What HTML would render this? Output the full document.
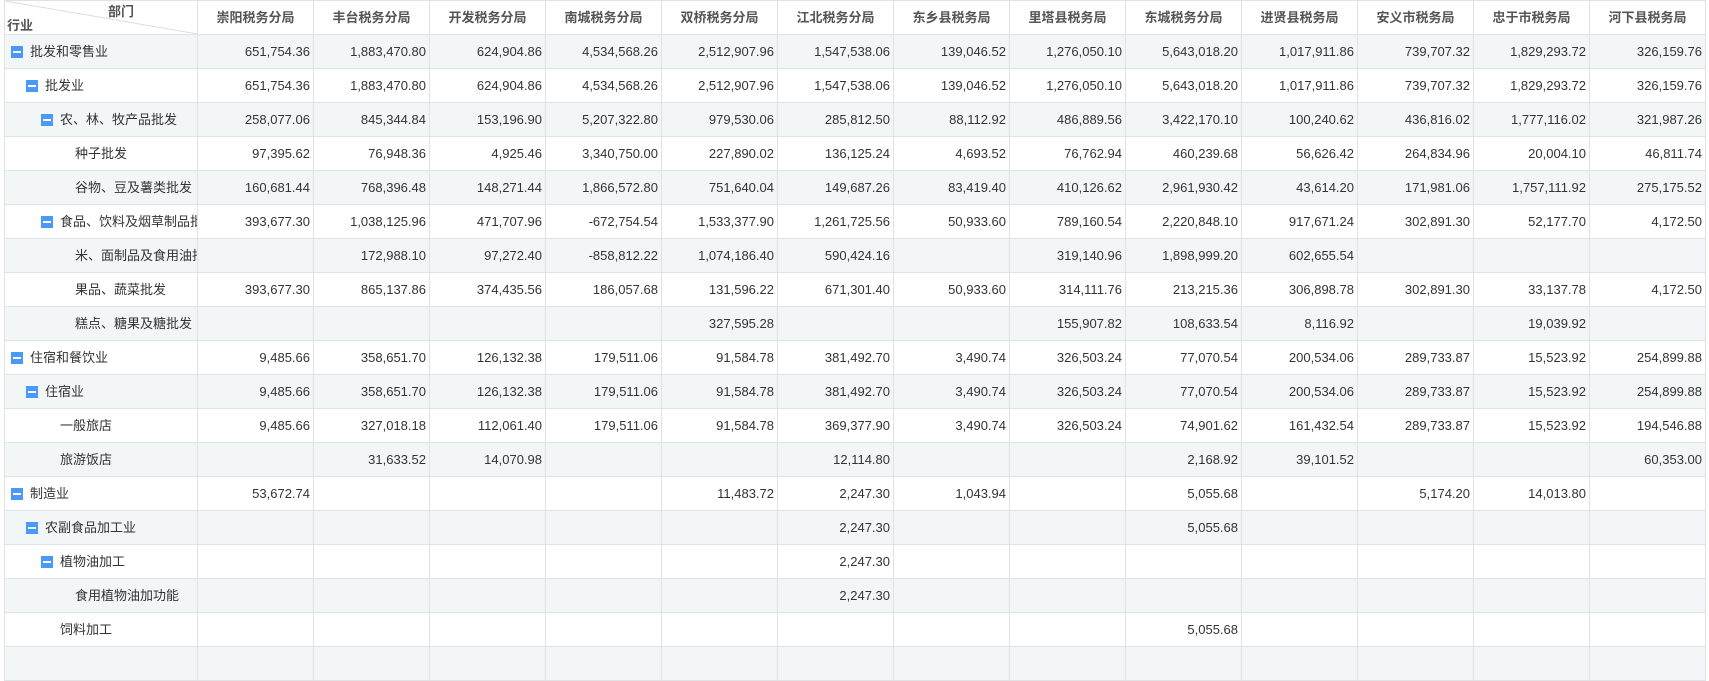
<!DOCTYPE html>
<html><head><meta charset="utf-8"><style>
html,body{margin:0;background:#fff;width:1709px;height:649px;overflow:hidden;font-family:"Liberation Sans","Noto Sans CJK SC",sans-serif;}
table{position:absolute;left:4px;top:0;border-collapse:collapse;table-layout:fixed;width:1702px;font-size:13px;color:#333;line-height:16px;}
tr{height:34px;}
td,th{border:1px solid #e0e3e6;height:34px;padding:0 3px 0 0;text-align:right;white-space:nowrap;overflow:hidden;box-sizing:border-box;vertical-align:middle;}
th{font-weight:bold;color:#555;text-align:center;padding:0;font-size:13px;}
tr.g td{background:#f3f6f7;}
td.n{text-align:left;padding:0;position:relative;}
.i{display:inline-block;width:12px;height:12px;background:#4a98f7;position:absolute;top:11px;}
.i:after{content:"";position:absolute;left:2px;right:2px;top:5px;height:2px;background:#fff;}
.t{position:absolute;top:9px;line-height:16px;}
</style></head><body>
<table>
<colgroup><col style="width:193px"><col span="13" style="width:116px"></colgroup>
<tr><th style="position:relative;border-left:1px solid #e0e3e6;text-align:left">
<svg width="193" height="34" style="position:absolute;left:0;top:0"><line x1="0" y1="0" x2="193" y2="33" stroke="#ddd"/></svg>
<span style="position:absolute;left:103px;top:3px">部门</span><span style="position:absolute;left:2px;top:17px">行业</span></th>
<th>崇阳税务分局</th><th>丰台税务分局</th><th>开发税务分局</th><th>南城税务分局</th><th>双桥税务分局</th><th>江北税务分局</th><th>东乡县税务局</th><th>里塔县税务局</th><th>东城税务分局</th><th>进贤县税务局</th><th>安义市税务局</th><th>忠于市税务局</th><th>河下县税务局</th></tr>
<tr class="g"><td class="n"><span class="i" style="left:6px"></span><span class="t" style="left:25px">批发和零售业</span></td><td>651,754.36</td><td>1,883,470.80</td><td>624,904.86</td><td>4,534,568.26</td><td>2,512,907.96</td><td>1,547,538.06</td><td>139,046.52</td><td>1,276,050.10</td><td>5,643,018.20</td><td>1,017,911.86</td><td>739,707.32</td><td>1,829,293.72</td><td>326,159.76</td></tr>
<tr><td class="n"><span class="i" style="left:21px"></span><span class="t" style="left:40px">批发业</span></td><td>651,754.36</td><td>1,883,470.80</td><td>624,904.86</td><td>4,534,568.26</td><td>2,512,907.96</td><td>1,547,538.06</td><td>139,046.52</td><td>1,276,050.10</td><td>5,643,018.20</td><td>1,017,911.86</td><td>739,707.32</td><td>1,829,293.72</td><td>326,159.76</td></tr>
<tr class="g"><td class="n"><span class="i" style="left:36px"></span><span class="t" style="left:55px">农、林、牧产品批发</span></td><td>258,077.06</td><td>845,344.84</td><td>153,196.90</td><td>5,207,322.80</td><td>979,530.06</td><td>285,812.50</td><td>88,112.92</td><td>486,889.56</td><td>3,422,170.10</td><td>100,240.62</td><td>436,816.02</td><td>1,777,116.02</td><td>321,987.26</td></tr>
<tr><td class="n"><span class="t" style="left:70px">种子批发</span></td><td>97,395.62</td><td>76,948.36</td><td>4,925.46</td><td>3,340,750.00</td><td>227,890.02</td><td>136,125.24</td><td>4,693.52</td><td>76,762.94</td><td>460,239.68</td><td>56,626.42</td><td>264,834.96</td><td>20,004.10</td><td>46,811.74</td></tr>
<tr class="g"><td class="n"><span class="t" style="left:70px">谷物、豆及薯类批发</span></td><td>160,681.44</td><td>768,396.48</td><td>148,271.44</td><td>1,866,572.80</td><td>751,640.04</td><td>149,687.26</td><td>83,419.40</td><td>410,126.62</td><td>2,961,930.42</td><td>43,614.20</td><td>171,981.06</td><td>1,757,111.92</td><td>275,175.52</td></tr>
<tr><td class="n"><span class="i" style="left:36px"></span><span class="t" style="left:55px">食品、饮料及烟草制品批发</span></td><td>393,677.30</td><td>1,038,125.96</td><td>471,707.96</td><td>-672,754.54</td><td>1,533,377.90</td><td>1,261,725.56</td><td>50,933.60</td><td>789,160.54</td><td>2,220,848.10</td><td>917,671.24</td><td>302,891.30</td><td>52,177.70</td><td>4,172.50</td></tr>
<tr class="g"><td class="n"><span class="t" style="left:70px">米、面制品及食用油批发</span></td><td></td><td>172,988.10</td><td>97,272.40</td><td>-858,812.22</td><td>1,074,186.40</td><td>590,424.16</td><td></td><td>319,140.96</td><td>1,898,999.20</td><td>602,655.54</td><td></td><td></td><td></td></tr>
<tr><td class="n"><span class="t" style="left:70px">果品、蔬菜批发</span></td><td>393,677.30</td><td>865,137.86</td><td>374,435.56</td><td>186,057.68</td><td>131,596.22</td><td>671,301.40</td><td>50,933.60</td><td>314,111.76</td><td>213,215.36</td><td>306,898.78</td><td>302,891.30</td><td>33,137.78</td><td>4,172.50</td></tr>
<tr class="g"><td class="n"><span class="t" style="left:70px">糕点、糖果及糖批发</span></td><td></td><td></td><td></td><td></td><td>327,595.28</td><td></td><td></td><td>155,907.82</td><td>108,633.54</td><td>8,116.92</td><td></td><td>19,039.92</td><td></td></tr>
<tr><td class="n"><span class="i" style="left:6px"></span><span class="t" style="left:25px">住宿和餐饮业</span></td><td>9,485.66</td><td>358,651.70</td><td>126,132.38</td><td>179,511.06</td><td>91,584.78</td><td>381,492.70</td><td>3,490.74</td><td>326,503.24</td><td>77,070.54</td><td>200,534.06</td><td>289,733.87</td><td>15,523.92</td><td>254,899.88</td></tr>
<tr class="g"><td class="n"><span class="i" style="left:21px"></span><span class="t" style="left:40px">住宿业</span></td><td>9,485.66</td><td>358,651.70</td><td>126,132.38</td><td>179,511.06</td><td>91,584.78</td><td>381,492.70</td><td>3,490.74</td><td>326,503.24</td><td>77,070.54</td><td>200,534.06</td><td>289,733.87</td><td>15,523.92</td><td>254,899.88</td></tr>
<tr><td class="n"><span class="t" style="left:55px">一般旅店</span></td><td>9,485.66</td><td>327,018.18</td><td>112,061.40</td><td>179,511.06</td><td>91,584.78</td><td>369,377.90</td><td>3,490.74</td><td>326,503.24</td><td>74,901.62</td><td>161,432.54</td><td>289,733.87</td><td>15,523.92</td><td>194,546.88</td></tr>
<tr class="g"><td class="n"><span class="t" style="left:55px">旅游饭店</span></td><td></td><td>31,633.52</td><td>14,070.98</td><td></td><td></td><td>12,114.80</td><td></td><td></td><td>2,168.92</td><td>39,101.52</td><td></td><td></td><td>60,353.00</td></tr>
<tr><td class="n"><span class="i" style="left:6px"></span><span class="t" style="left:25px">制造业</span></td><td>53,672.74</td><td></td><td></td><td></td><td>11,483.72</td><td>2,247.30</td><td>1,043.94</td><td></td><td>5,055.68</td><td></td><td>5,174.20</td><td>14,013.80</td><td></td></tr>
<tr class="g"><td class="n"><span class="i" style="left:21px"></span><span class="t" style="left:40px">农副食品加工业</span></td><td></td><td></td><td></td><td></td><td></td><td>2,247.30</td><td></td><td></td><td>5,055.68</td><td></td><td></td><td></td><td></td></tr>
<tr><td class="n"><span class="i" style="left:36px"></span><span class="t" style="left:55px">植物油加工</span></td><td></td><td></td><td></td><td></td><td></td><td>2,247.30</td><td></td><td></td><td></td><td></td><td></td><td></td><td></td></tr>
<tr class="g"><td class="n"><span class="t" style="left:70px">食用植物油加功能</span></td><td></td><td></td><td></td><td></td><td></td><td>2,247.30</td><td></td><td></td><td></td><td></td><td></td><td></td><td></td></tr>
<tr><td class="n"><span class="t" style="left:55px">饲料加工</span></td><td></td><td></td><td></td><td></td><td></td><td></td><td></td><td></td><td>5,055.68</td><td></td><td></td><td></td><td></td></tr>
<tr class="g"><td class="n"></td><td></td><td></td><td></td><td></td><td></td><td></td><td></td><td></td><td></td><td></td><td></td><td></td><td></td></tr>
</table>
</body></html>
